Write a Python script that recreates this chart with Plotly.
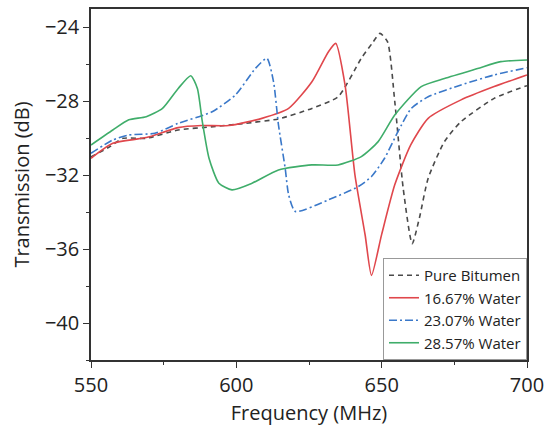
import plotly.graph_objects as go

# Pure Bitumen
f_pb = [550, 556, 561, 569, 580, 592, 603, 614.5, 626, 635, 643, 647, 649.4, 652, 654.5, 657.4, 660.5, 663, 666, 671.6, 677.3, 688.7, 700]
t_pb = [-31.0, -30.5, -30.0, -30.0, -29.55, -29.37, -29.19, -28.95, -28.38, -27.75, -25.67, -24.8, -24.32, -24.77, -28.0, -32.7, -35.7, -34.3, -32.16, -30.18, -29.1, -27.84, -27.15]

# 16.67% Water
f_w1 = [550, 557.5, 569, 580, 588, 597.4, 608.8, 618, 626, 631.7, 634.2, 637.4, 640.8, 644.3, 646.5, 650, 654.5, 660, 666, 677.3, 688.7, 700]
t_w1 = [-31.08, -30.27, -29.96, -29.42, -29.31, -29.31, -28.92, -28.38, -26.94, -25.31, -24.86, -27.11, -31.98, -35.22, -37.42, -35.2, -32.52, -30.36, -28.92, -27.92, -27.2, -26.57]

# 23.07% Water
f_w2 = [550, 557.5, 563, 572, 580, 591.7, 599.7, 606.6, 610.5, 612.8, 614.5, 616.8, 618, 620.3, 631.7, 642, 646.5, 651, 655.6, 660.2, 666, 677.3, 688.7, 700]
t_w2 = [-30.81, -30.09, -29.82, -29.73, -29.19, -28.56, -27.65, -26.21, -25.67, -26.94, -29.28, -31.62, -33.06, -33.96, -33.33, -32.61, -32.07, -31.08, -29.64, -28.38, -27.75, -27.11, -26.57, -26.18]

# 28.57% Water
f_w3 = [550, 557.5, 563, 569, 574.6, 580, 584.3, 586.6, 588.3, 590.6, 594, 598.5, 605.4, 614.5, 626, 635, 643, 648.8, 654.5, 663.6, 671.6, 683, 691, 700]
t_w3 = [-30.36, -29.55, -29.0, -28.83, -28.38, -27.3, -26.61, -27.3, -29.1, -31.08, -32.43, -32.79, -32.43, -31.71, -31.44, -31.44, -30.99, -30.18, -28.74, -27.2, -26.76, -26.22, -25.85, -25.76]

names = ["Pure Bitumen", "16.67% Water", "23.07% Water", "28.57% Water"]
xs = [f_pb, f_w1, f_w2, f_w3]
ys = [t_pb, t_w1, t_w2, t_w3]
colors = ["#4a4a4a", "#e0474c", "#3a78c9", "#3fad6a"]
dashes = ["5px,4px", "solid", "8px,3px,2px,3px", "solid"]

x_ticks = [550, 600, 650, 700]
y_ticks = [-40, -36, -32, -28, -24]

fig = go.Figure()
for x, y, n, c, d in zip(xs, ys, names, colors, dashes):
    fig.add_trace(go.Scatter(x=x, y=y, name=n, mode="lines",
                             line=dict(color=c, width=1.6, dash=d, shape="spline", smoothing=0.6)))

font_family = "Open Sans, Noto Sans, sans-serif"
fig.update_layout(
    width=551, height=429,
    margin=dict(l=91, r=22, t=7, b=69),
    paper_bgcolor="white", plot_bgcolor="white",
    font=dict(family=font_family, color="#222"),
    showlegend=True,
    legend=dict(x=1, y=0, xanchor="right", yanchor="bottom",
                bordercolor="#999", borderwidth=1, bgcolor="white",
                font=dict(size=15, color="#222"), tracegroupgap=0,
                itemwidth=30),
    xaxis=dict(range=[550, 700], tickvals=x_ticks, ticks="outside", ticklen=6, tickwidth=1.2,
               tickcolor="#333", showline=True, linecolor="#333", linewidth=1.5, mirror=True,
               showgrid=False, zeroline=False, tickfont=dict(size=20),
               minor=dict(ticks="outside", ticklen=3, tickcolor="#333", dtick=25, tick0=550, showgrid=False),
               title=dict(text="Frequency (MHz)", font=dict(size=20), standoff=9)),
    yaxis=dict(range=[-42, -23], tickvals=y_ticks, ticks="outside", ticklen=6, tickwidth=1.2,
               tickcolor="#333", showline=True, linecolor="#333", linewidth=1.5, mirror=True,
               showgrid=False, zeroline=False, tickfont=dict(size=20),
               minor=dict(ticks="outside", ticklen=3, tickcolor="#333", dtick=2, tick0=-40, showgrid=False),
               title=dict(text="Transmission (dB)", font=dict(size=20), standoff=10)),
)

fig.write_html("out.html")
